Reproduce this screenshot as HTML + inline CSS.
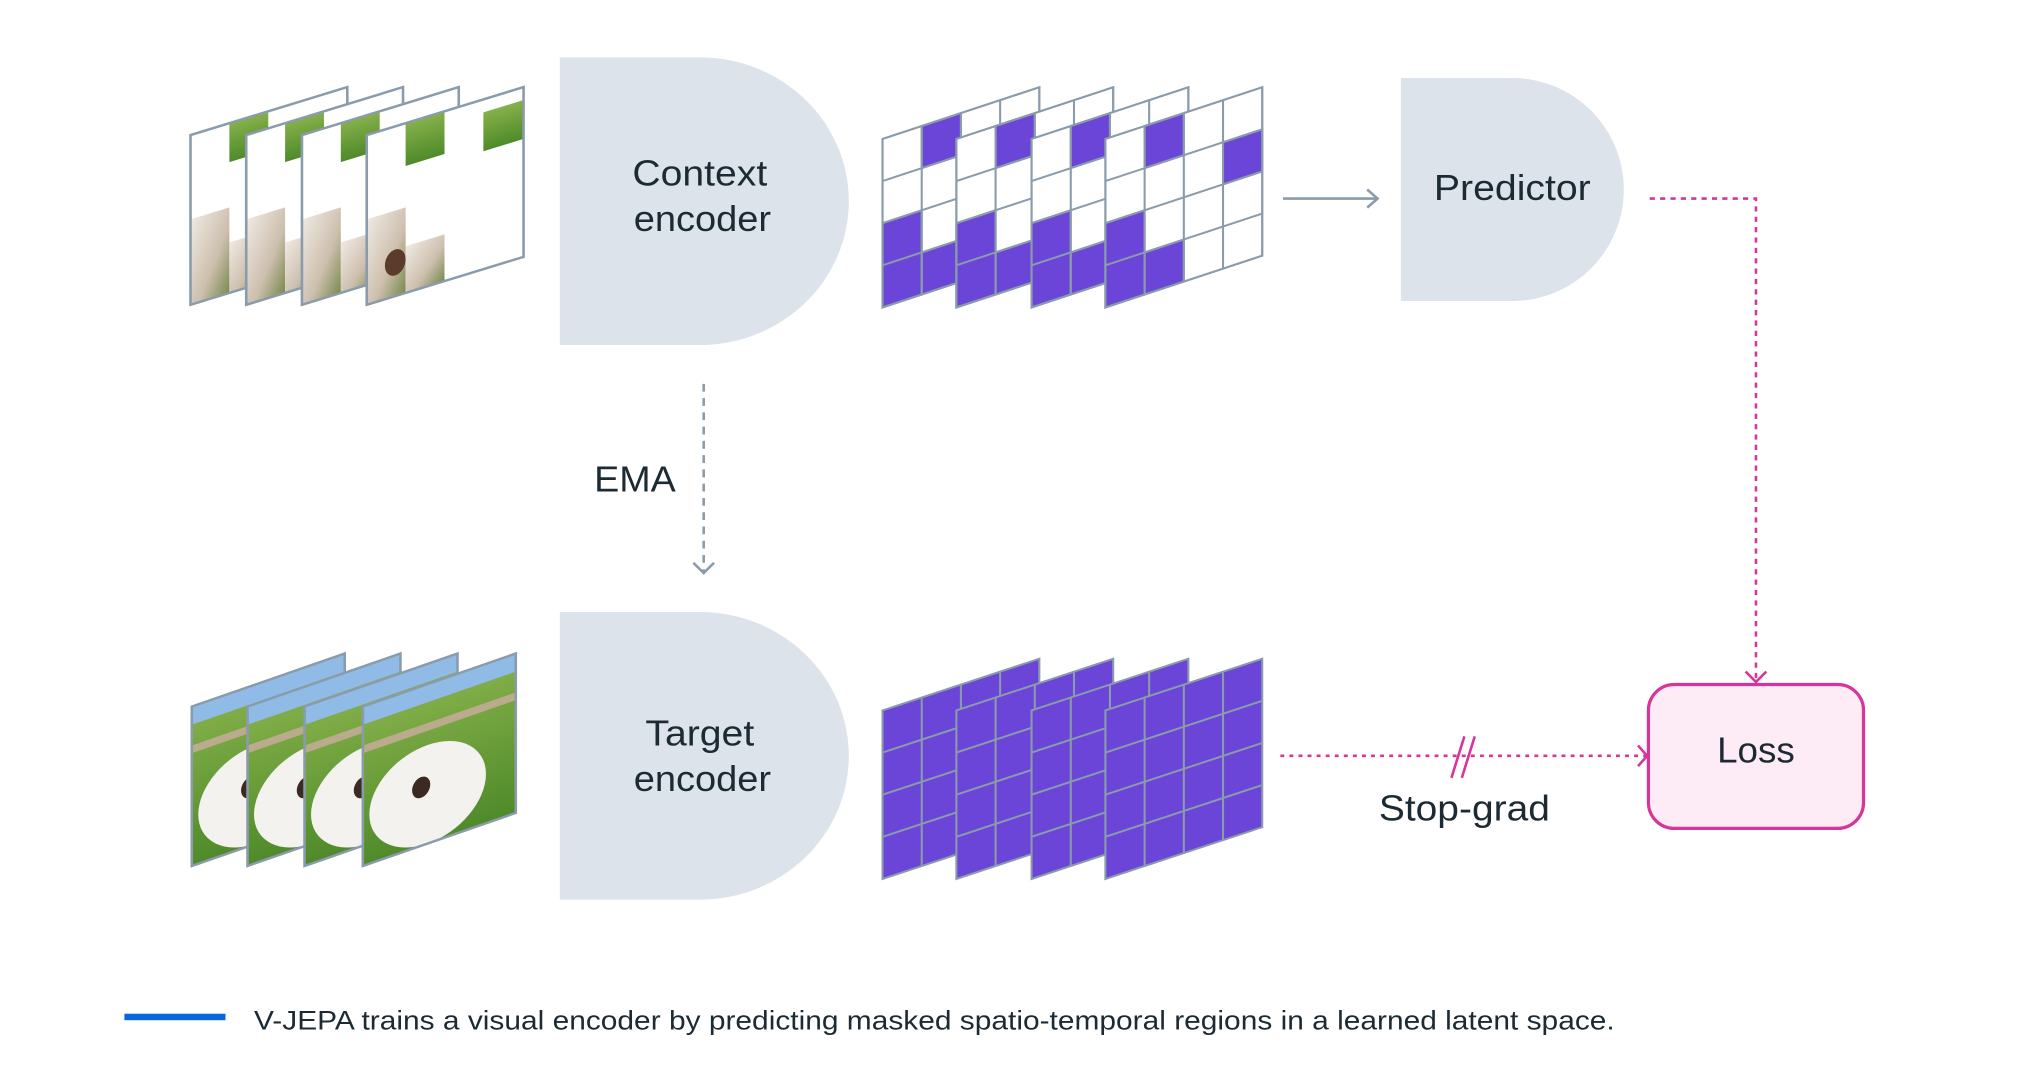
<!DOCTYPE html>
<html><head><meta charset="utf-8"><style>
html,body{margin:0;padding:0;background:#fff;}
svg{display:block;}
text{font-family:"Liberation Sans",sans-serif;fill:#1c2b33;}
</style></head><body>
<svg width="2032" height="1084" viewBox="0 0 1568 836" xmlns="http://www.w3.org/2000/svg">
<defs>
<linearGradient id="dog" x1="0" y1="0" x2="1" y2="1"><stop offset="0" stop-color="#efe9e2"/><stop offset="0.6" stop-color="#cdbfae"/><stop offset="1" stop-color="#7a8a50"/></linearGradient>
<linearGradient id="grass" x1="0" y1="0" x2="0" y2="1"><stop offset="0" stop-color="#86b14a"/><stop offset="1" stop-color="#4f8a2a"/></linearGradient>
<g id="tframe">
 <rect x="0" y="0" width="121" height="131" fill="#fff"/>
 <rect x="30" y="0" width="30" height="30" fill="url(#grass)"/>
 <rect x="0" y="65" width="30" height="66" fill="url(#dog)"/>
 <rect x="30" y="92" width="30" height="39" fill="url(#dog)"/>
 <rect x="0" y="0" width="121" height="131" fill="none" stroke="#8a9bab" stroke-width="2"/>
</g>
<g id="tframe4">
 <rect x="0" y="0" width="121" height="131" fill="#fff"/>
 <rect x="30" y="0" width="30" height="33" fill="url(#grass)"/>
 <rect x="90" y="10" width="31" height="30" fill="url(#grass)"/>
 <rect x="0" y="65" width="30" height="66" fill="url(#dog)"/>
 <rect x="30" y="95" width="30" height="36" fill="url(#dog)"/>
 <ellipse cx="22" cy="105" rx="8" ry="10" fill="#5a3b2c"/>
 <rect x="0" y="0" width="121" height="131" fill="none" stroke="#8a9bab" stroke-width="2"/>
</g>
<g id="bframe">
 <rect x="0" y="0" width="118" height="123" fill="url(#grass)"/>
 <rect x="0" y="0" width="118" height="14" fill="#8fbbe6"/>
 <rect x="0" y="30" width="118" height="6" fill="#b9ab8c"/>
 <ellipse cx="50" cy="85" rx="45" ry="38" fill="#f4f2ee"/>
 <ellipse cx="45" cy="78" rx="7" ry="8" fill="#3a2a22"/>
 <rect x="0" y="0" width="118" height="123" fill="none" stroke="#8a9bab" stroke-width="2"/>
</g>
</defs>

<g transform="matrix(1,-0.306,0,1,147,104)"><use href="#tframe"/></g>
<g transform="matrix(1,-0.306,0,1,190,104)"><use href="#tframe"/></g>
<g transform="matrix(1,-0.306,0,1,233,104)"><use href="#tframe"/></g>
<g transform="matrix(1,-0.306,0,1,283,104)"><use href="#tframe4"/></g>

<g transform="matrix(1,-0.347,0,1,148,545)"><use href="#bframe"/></g>
<g transform="matrix(1,-0.347,0,1,191,545)"><use href="#bframe"/></g>
<g transform="matrix(1,-0.347,0,1,235,545)"><use href="#bframe"/></g>
<g transform="matrix(1,-0.347,0,1,280,545)"><use href="#bframe"/></g>

<path d="M432,44 H540 A115,111 0 0 1 540,266 H432 Z" fill="#dde3ea"/>
<text x="540" y="143" font-size="28" text-anchor="middle" textLength="104" lengthAdjust="spacingAndGlyphs">Context</text>
<text x="542" y="178" font-size="28" text-anchor="middle" textLength="106" lengthAdjust="spacingAndGlyphs">encoder</text>
<path d="M432,472 H540 A115,111 0 0 1 540,694 H432 Z" fill="#dde3ea"/>
<text x="540" y="575" font-size="28" text-anchor="middle" textLength="84" lengthAdjust="spacingAndGlyphs">Target</text>
<text x="542" y="610" font-size="28" text-anchor="middle" textLength="106" lengthAdjust="spacingAndGlyphs">encoder</text>
<path d="M1081,60 H1167 A86,86 0 0 1 1167,232 H1081 Z" fill="#dde3ea"/>
<text x="1167" y="154" font-size="28" text-anchor="middle" textLength="121" lengthAdjust="spacingAndGlyphs">Predictor</text>

<g stroke="#8a9bab" stroke-width="1.6">
<g transform="matrix(1,-0.33,0,1,681,107)">
 <rect x="0" y="0" width="121" height="130" fill="#fff"/>
 <rect x="30.25" y="0" width="30.25" height="32.5" fill="#6b44d8"/>
 <rect x="0" y="65" width="30.25" height="65" fill="#6b44d8"/>
 <rect x="30.25" y="97.5" width="30.25" height="32.5" fill="#6b44d8"/>
 <path d="M30.25,0V130M60.5,0V130M90.75,0V130M0,32.5H121M0,65H121M0,97.5H121" fill="none"/>
 <rect x="0" y="0" width="121" height="130" fill="none"/>
</g>
<g transform="matrix(1,-0.33,0,1,738,107)">
 <rect x="0" y="0" width="121" height="130" fill="#fff"/>
 <rect x="30.25" y="0" width="30.25" height="32.5" fill="#6b44d8"/>
 <rect x="0" y="65" width="30.25" height="65" fill="#6b44d8"/>
 <rect x="30.25" y="97.5" width="30.25" height="32.5" fill="#6b44d8"/>
 <path d="M30.25,0V130M60.5,0V130M90.75,0V130M0,32.5H121M0,65H121M0,97.5H121" fill="none"/>
 <rect x="0" y="0" width="121" height="130" fill="none"/>
</g>
<g transform="matrix(1,-0.33,0,1,796,107)">
 <rect x="0" y="0" width="121" height="130" fill="#fff"/>
 <rect x="30.25" y="0" width="30.25" height="32.5" fill="#6b44d8"/>
 <rect x="0" y="65" width="30.25" height="65" fill="#6b44d8"/>
 <rect x="30.25" y="97.5" width="30.25" height="32.5" fill="#6b44d8"/>
 <path d="M30.25,0V130M60.5,0V130M90.75,0V130M0,32.5H121M0,65H121M0,97.5H121" fill="none"/>
 <rect x="0" y="0" width="121" height="130" fill="none"/>
</g>
<g transform="matrix(1,-0.33,0,1,853,107)">
 <rect x="0" y="0" width="121" height="130" fill="#fff"/>
 <rect x="30.25" y="0" width="30.25" height="32.5" fill="#6b44d8"/>
 <rect x="90.75" y="32.5" width="30.25" height="32.5" fill="#6b44d8"/>
 <rect x="0" y="65" width="30.25" height="65" fill="#6b44d8"/>
 <rect x="30.25" y="97.5" width="30.25" height="32.5" fill="#6b44d8"/>
 <path d="M30.25,0V130M60.5,0V130M90.75,0V130M0,32.5H121M0,65H121M0,97.5H121" fill="none"/>
 <rect x="0" y="0" width="121" height="130" fill="none"/>
</g>

<g transform="matrix(1,-0.33,0,1,681,548)">
 <rect x="0" y="0" width="121" height="130" fill="#6b44d8"/>
 <path d="M30.25,0V130M60.5,0V130M90.75,0V130M0,32.5H121M0,65H121M0,97.5H121" fill="none"/>
</g>
<g transform="matrix(1,-0.33,0,1,738,548)">
 <rect x="0" y="0" width="121" height="130" fill="#6b44d8"/>
 <path d="M30.25,0V130M60.5,0V130M90.75,0V130M0,32.5H121M0,65H121M0,97.5H121" fill="none"/>
</g>
<g transform="matrix(1,-0.33,0,1,796,548)">
 <rect x="0" y="0" width="121" height="130" fill="#6b44d8"/>
 <path d="M30.25,0V130M60.5,0V130M90.75,0V130M0,32.5H121M0,65H121M0,97.5H121" fill="none"/>
</g>
<g transform="matrix(1,-0.33,0,1,853,548)">
 <rect x="0" y="0" width="121" height="130" fill="#6b44d8"/>
 <path d="M30.25,0V130M60.5,0V130M90.75,0V130M0,32.5H121M0,65H121M0,97.5H121" fill="none"/>
</g>
</g>

<g stroke="#8a9bab" stroke-width="2" fill="none">
 <path d="M990,153 H1063"/><path d="M1055,146 L1063,153 L1055,160"/>
 <path d="M543,296 V442" stroke-dasharray="6 5"/><path d="M535,434 L543,442 L551,434"/>
</g>
<text x="490" y="379" font-size="28" text-anchor="middle" textLength="63" lengthAdjust="spacingAndGlyphs">EMA</text>

<g stroke="#d6359a" stroke-width="2" fill="none">
 <path d="M1273,153 H1355 V526" stroke-dasharray="4 4"/>
 <path d="M1347,518 L1355,526 L1363,518"/>
 <path d="M988,583 H1271" stroke-dasharray="3 4"/>
 <path d="M1264,575 L1271,583 L1264,591"/>
 <path d="M1120,600 L1130,568 M1128,600 L1138,568"/>
 <rect x="1272" y="528" width="166" height="111" rx="20" fill="#fdebf6" stroke-width="2.5"/>
</g>
<text x="1355" y="588" font-size="28" text-anchor="middle" textLength="60" lengthAdjust="spacingAndGlyphs">Loss</text>
<text x="1130" y="633" font-size="28" text-anchor="middle" textLength="132" lengthAdjust="spacingAndGlyphs">Stop-grad</text>

<rect x="96" y="782" width="78" height="5" fill="#0866e0"/>
<text x="196" y="794" font-size="21" textLength="1050" lengthAdjust="spacingAndGlyphs">V-JEPA trains a visual encoder by predicting masked spatio-temporal regions in a learned latent space.</text>
</svg>
</body></html>
